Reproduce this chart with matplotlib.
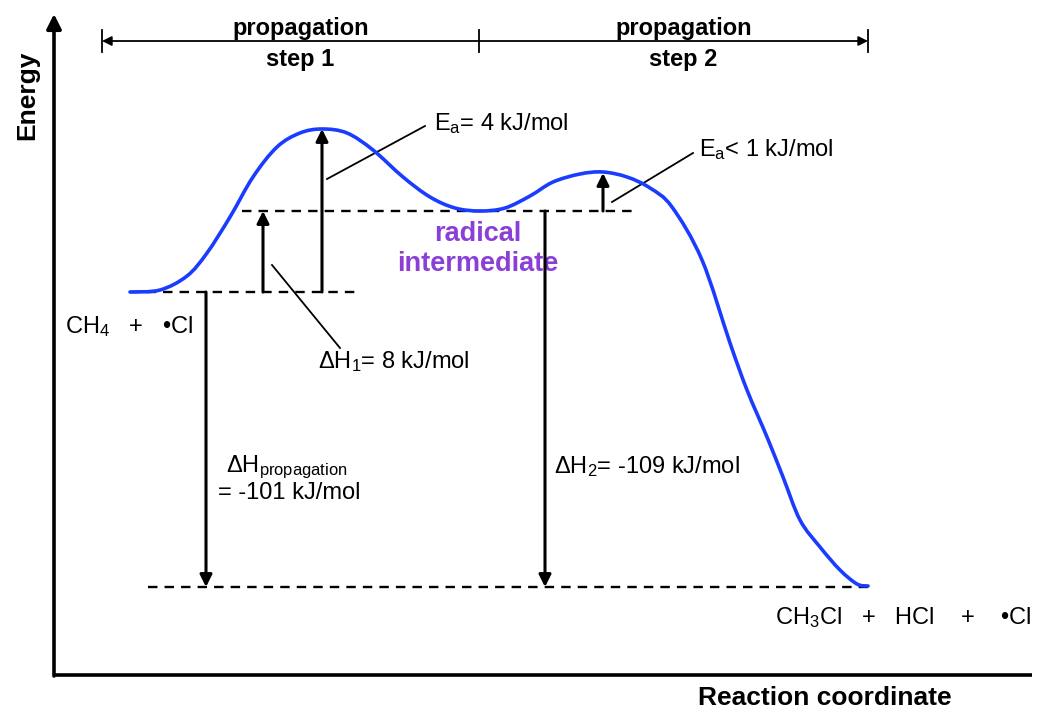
import matplotlib
matplotlib.use("Agg")
import matplotlib.pyplot as plt
from matplotlib.path import Path
from matplotlib.patches import PathPatch

plt.rcParams['font.family'] = ['Liberation Sans', 'DejaVu Sans']
plt.rcParams['mathtext.fontset'] = 'custom'
plt.rcParams['mathtext.rm'] = 'Liberation Sans'
plt.rcParams['mathtext.it'] = 'Liberation Sans:italic'
plt.rcParams['mathtext.bf'] = 'Liberation Sans:bold'

# diagram units: x = reaction coordinate, y = energy (arbitrary, not to scale)
curve_x = [130, 160, 187, 207, 230, 253, 277, 300, 322, 347, 373, 403, 430, 455,
           480, 505, 530, 553, 580, 603, 627, 650, 672, 702, 730, 747, 767,
           783, 800, 820, 840, 857, 868]
curve_y = [417, 419, 433, 456, 492, 532, 562, 576, 580, 576, 559, 532, 512, 501,
           498, 501, 513, 527, 535, 537, 532, 521, 502, 449, 366, 319, 272,
           232, 189, 162, 139, 125, 123]

# energy levels
E_reactant = 417
E_intermediate = 498
E_ts1 = 580
E_ts2 = 536
E_product = 122

# dashed level lines: (level, x start, x end)
level_lines = [(E_reactant, 130, 358), (E_intermediate, 242, 635), (E_product, 148, 868)]

# vertical arrows: (x, from, to)
energy_arrows = [(263, E_reactant, E_intermediate),
                 (322, E_reactant, E_ts1),
                 (603, E_intermediate, E_ts2),
                 (206, E_reactant, E_product),
                 (545, E_intermediate, E_product)]

# leader lines from arrows to labels
leaders = [((327, 530), (425, 583)),
           ((612, 507), (693, 556)),
           ((272, 444), (340, 361))]

# step bracket
step_edges = [102, 479, 868]
step_labels = ['propagation\nstep 1', 'propagation\nstep 2']
bracket_y = 668


def smooth_path(xs, ys):
    # Catmull-Rom knots turned into cubic bezier segments, drawn by matplotlib
    pts = list(zip(xs, ys))
    verts = [pts[0]]
    codes = [Path.MOVETO]
    n = len(pts)
    for i in range(n - 1):
        p0 = pts[i - 1] if i > 0 else pts[i]
        p1 = pts[i]
        p2 = pts[i + 1]
        p3 = pts[i + 2] if i + 2 < n else pts[i + 1]
        c1 = (p1[0] + (p2[0] - p0[0]) / 6, p1[1] + (p2[1] - p0[1]) / 6)
        c2 = (p2[0] - (p3[0] - p1[0]) / 6, p2[1] - (p3[1] - p1[1]) / 6)
        verts += [c1, c2, p2]
        codes += [Path.CURVE4] * 3
    return Path(verts, codes)


fig = plt.figure(figsize=(10.42, 7.09), dpi=100)
ax = fig.add_axes([0, 0, 1, 1])
ax.set_xlim(0, 1042)
ax.set_ylim(0, 709)
ax.axis('off')

# axes of the diagram
ax.plot([54, 1032], [34, 34], color='black', lw=2.6, solid_capstyle='butt')
ax.annotate('', xy=(54, 695), xytext=(54, 33),
            arrowprops=dict(arrowstyle='-|>', color='black', lw=2.6,
                            mutation_scale=22, shrinkA=0, shrinkB=0))
ax.text(27, 614, 'Energy', rotation=90, ha='center', va='center',
        fontsize=19, fontweight='bold')
ax.text(825, 11, 'Reaction coordinate', ha='center', va='center',
        fontsize=19, fontweight='bold')

# bracket on top
ax.annotate('', xy=(step_edges[0], bracket_y), xytext=(step_edges[1], bracket_y),
            arrowprops=dict(arrowstyle='-|>', color='black', lw=1.3,
                            mutation_scale=14, shrinkA=0, shrinkB=0))
ax.annotate('', xy=(step_edges[2], bracket_y), xytext=(step_edges[1], bracket_y),
            arrowprops=dict(arrowstyle='-|>', color='black', lw=1.3,
                            mutation_scale=14, shrinkA=0, shrinkB=0))
for xe in step_edges:
    ax.plot([xe, xe], [bracket_y - 11, bracket_y + 11], color='black', lw=1.3)
for i, lab in enumerate(step_labels):
    xm = (step_edges[i] + step_edges[i + 1]) / 2 + 10
    ax.text(xm, bracket_y - 3, lab, ha='center', va='center', fontsize=17,
            fontweight='bold', linespacing=1.4)

# levels
for lev, x0, x1 in level_lines:
    ax.plot([x0, x1], [lev, lev], color='black', lw=1.7, linestyle=(0, (4, 3)))

# energy curve
ax.add_patch(PathPatch(smooth_path(curve_x, curve_y), facecolor='none',
                       edgecolor='#1a3cff', lw=2.6, capstyle='round', zorder=3))

# arrows
for xa, e0, e1 in energy_arrows:
    ax.annotate('', xy=(xa, e1), xytext=(xa, e0),
                arrowprops=dict(arrowstyle='-|>', color='black', lw=2.2,
                                mutation_scale=18, shrinkA=0, shrinkB=0),
                zorder=4)

for (p0, p1) in leaders:
    ax.plot([p0[0], p1[0]], [p0[1], p1[1]], color='black', lw=1.3)

# labels
fs = 17
ax.text(434, 585, r'E$_{\rm a}$= 4 kJ/mol', ha='left', va='center', fontsize=fs)
ax.text(699, 559, r'E$_{\rm a}$< 1 kJ/mol', ha='left', va='center', fontsize=fs)
ax.text(318, 347, r'ΔH$_{\rm 1}$= 8 kJ/mol', ha='left', va='center', fontsize=fs)
ax.text(65, 382, r'CH$_{\rm 4}$   +   •Cl', ha='left', va='center', fontsize=fs)
ax.text(226, 242, r'ΔH$_{\rm propagation}$', ha='left', va='center', fontsize=fs)
ax.text(218, 216, '= -101 kJ/mol', ha='left', va='center', fontsize=fs)
ax.text(554, 242, r'ΔH$_{\rm 2}$= -109 kJ/mol', ha='left', va='center', fontsize=fs)
ax.text(775, 91, r'CH$_{\rm 3}$Cl   +   HCl    +    •Cl', ha='left', va='center',
        fontsize=fs)
ax.text(478, 460, 'radical\nintermediate', ha='center', va='center', fontsize=19.5,
        fontweight='bold', color='#8b3fd6', linespacing=1.2)

fig.savefig('out.png', dpi=100)
